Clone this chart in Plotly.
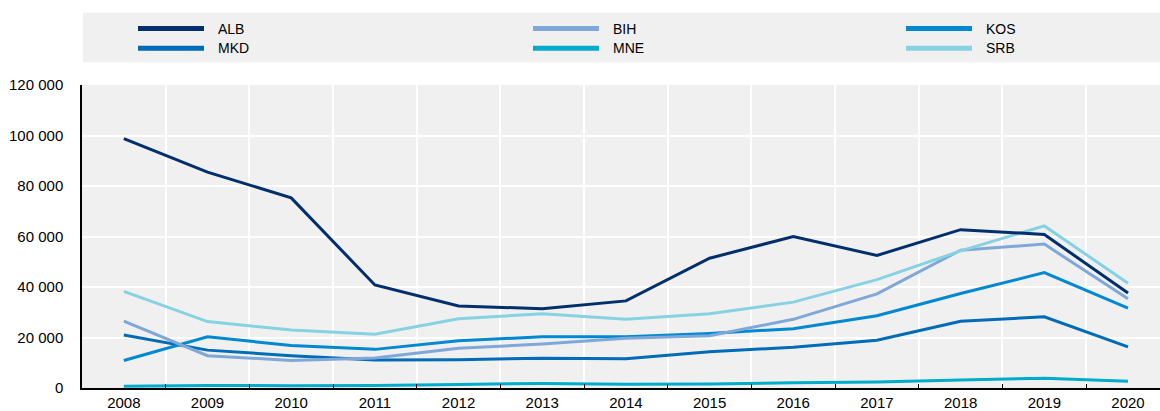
import plotly.graph_objects as go

years = ["2008", "2009", "2010", "2011", "2012", "2013", "2014",
         "2015", "2016", "2017", "2018", "2019", "2020"]

ALB = [98800, 85500, 75300, 40800, 32500, 31400, 34500, 51400, 60000, 52500, 62700, 60800, 37600]
BIH = [26500, 12800, 10900, 11900, 15700, 17400, 19700, 20700, 27200, 37300, 54600, 57000, 35300]
KOS = [10900, 20300, 16800, 15300, 18700, 20300, 20300, 21600, 23500, 28600, 37400, 45700, 31600]
MKD = [21000, 15000, 12800, 11100, 11200, 11800, 11600, 14400, 16100, 18900, 26400, 28200, 16300]
MNE = [700, 1000, 900, 1000, 1400, 1800, 1500, 1600, 2100, 2350, 3200, 3900, 2700]
SRB = [38300, 26300, 23000, 21300, 27400, 29400, 27200, 29400, 34000, 42900, 54300, 64200, 41500]

series_names = ["ALB", "BIH", "KOS", "MKD", "MNE", "SRB"]
series_values = [ALB, BIH, KOS, MKD, MNE, SRB]
series_colors = ["#002F6C", "#7FA8D9", "#0088D1", "#006BB6", "#00ACCC", "#86D2E3"]

y_ticks = [0, 20000, 40000, 60000, 80000, 100000, 120000]

# pixel geometry of the plot area
W, H = 1160, 411
L, R, T, B = 82, 1160, 85, 391
pw, ph = R - L, B - T

def px_x(x):
    return (x - L) / pw

def px_y(y):
    return (B - y) / ph

fig = go.Figure()
draw_order = ["MNE", "MKD", "KOS", "BIH", "SRB", "ALB"]
for nm in draw_order:
    i = series_names.index(nm)
    fig.add_trace(go.Scatter(
        x=years, y=series_values[i], name=nm, mode="lines",
        line=dict(color=series_colors[i], width=3),
        showlegend=False, cliponaxis=True,
    ))

shapes = [dict(type="rect", xref="paper", yref="paper",
               x0=px_x(83), x1=px_x(1160), y0=px_y(62), y1=px_y(12),
               fillcolor="#F0F0F0", line=dict(width=0), layer="below")]
annotations = []
col_x = [138, 533, 906]
row_y = [28, 48]
for i, nm in enumerate(series_names):
    c, r = i % 3, i // 3
    x0 = col_x[c]
    yy = row_y[r]
    shapes.append(dict(type="line", xref="paper", yref="paper",
                       x0=px_x(x0), x1=px_x(x0 + 66), y0=px_y(yy), y1=px_y(yy),
                       line=dict(color=series_colors[i], width=5)))
    annotations.append(dict(xref="paper", yref="paper", x=px_x(x0 + 78), y=px_y(yy),
                            text=nm, showarrow=False, xanchor="left", yanchor="middle",
                            font=dict(size=14, color="#000000")))

fig.update_layout(
    width=W, height=H,
    margin=dict(l=L, r=W - R, t=T, b=H - B, pad=0),
    paper_bgcolor="#FFFFFF",
    plot_bgcolor="#F0F0F0",
    font=dict(family="Arial, Liberation Sans, sans-serif", size=15, color="#000000"),
    separators=". ",
    shapes=shapes,
    annotations=annotations,
    xaxis=dict(type="category", categoryorder="array", categoryarray=years,
               range=[-0.5, 12 + (R - 1128) / 83.67],
               tickson="boundaries", ticks="inside", ticklen=4, tickcolor="#000000",
               showgrid=True, gridcolor="#FFFFFF", gridwidth=1.5,
               showline=True, linecolor="#000000", linewidth=1.5,
               tickfont=dict(size=15), fixedrange=True),
    yaxis=dict(range=[0, 120000], tickvals=y_ticks, tickformat=",d",
               showgrid=True, gridcolor="#FFFFFF", gridwidth=1.5,
               showline=True, linecolor="#000000", linewidth=1.5,
               ticks="", ticklabelstandoff=14, zeroline=False,
               tickfont=dict(size=15), fixedrange=True),
)

fig.write_html("out.html", config={"displayModeBar": False},
               post_script="document.body.style.margin='0';document.body.style.padding='0';document.body.style.overflow='hidden';")
